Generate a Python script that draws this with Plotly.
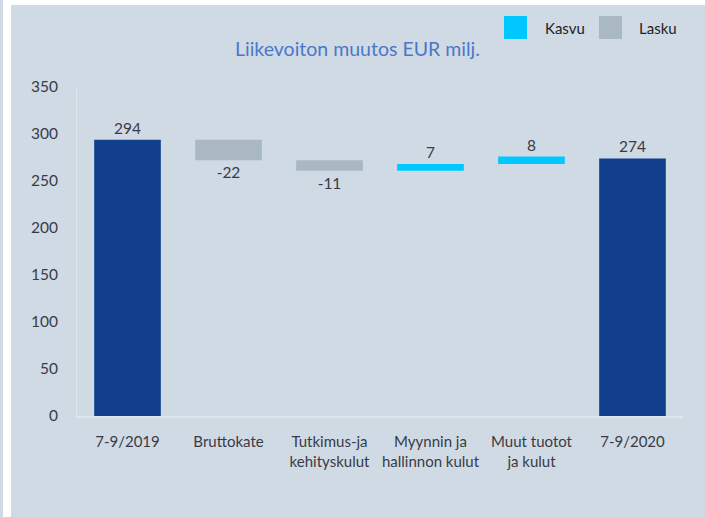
import plotly.graph_objects as go

categories = ["7-9/2019", "Bruttokate", "Tutkimus-ja<br>kehityskulut",
              "Myynnin ja<br>hallinnon kulut", "Muut tuotot<br>ja kulut", "7-9/2020"]
values = [294, -22, -11, 7, 8, 274]
kinds = ["total", "change", "change", "change", "change", "total"]
y_ticks = [0, 50, 100, 150, 200, 250, 300, 350]

C_TOTAL = "#113F8C"
C_UP = "#00C8FF"
C_DOWN = "#A9B8C2"
PANEL = "#CFDAE5"
TXT = "#3A3A45"
FONT = "Lato, sans-serif"

# compute bases from data
bases, heights, colors = [], [], []
running = 0
for v, k in zip(values, kinds):
    if k == "total":
        bases.append(0)
        heights.append(v)
        colors.append(C_TOTAL)
        running = v
    else:
        bases.append(running)
        heights.append(v)
        colors.append(C_UP if v > 0 else C_DOWN)
        running += v

xs = list(range(len(categories)))

fig = go.Figure()
fig.add_trace(go.Bar(
    x=xs, y=heights, base=bases,
    marker=dict(color=colors, line=dict(width=0)),
    width=0.66,
    text=[str(v) for v in values],
    textposition="outside",
    textfont=dict(family=FONT, size=15.5, color=TXT),
    cliponaxis=False,
    showlegend=False,
    hoverinfo="skip",
))

W, H = 705, 517
L, R, T, B = 77, 22, 87, 101
pw, ph = W - L - R, H - T - B

def xp(px):
    return (px - L) / pw

def yp(py):
    return (H - B - py) / ph

shapes = [
    # white top band and left strip
    dict(type="rect", xref="paper", yref="paper", x0=xp(11), x1=xp(W + 5), y0=yp(5), y1=yp(-5),
         fillcolor="white", line=dict(width=0), layer="below"),
    dict(type="rect", xref="paper", yref="paper", x0=xp(3), x1=xp(11), y0=yp(H + 5), y1=yp(-5),
         fillcolor="white", line=dict(width=0), layer="below"),
    # legend squares
    dict(type="rect", xref="paper", yref="paper", x0=xp(504), x1=xp(527), y0=yp(39), y1=yp(16),
         fillcolor=C_UP, line=dict(width=0)),
    dict(type="rect", xref="paper", yref="paper", x0=xp(599), x1=xp(622), y0=yp(39), y1=yp(16),
         fillcolor=C_DOWN, line=dict(width=0)),
]

annotations = [
    dict(text="Kasvu", xref="paper", yref="paper", x=xp(543), y=yp(28), xanchor="left", yanchor="middle",
         showarrow=False, font=dict(family=FONT, size=15, color="#222")),
    dict(text="Lasku", xref="paper", yref="paper", x=xp(637), y=yp(28), xanchor="left", yanchor="middle",
         showarrow=False, font=dict(family=FONT, size=15, color="#222")),
    dict(text="Liikevoiton muutos EUR milj.", xref="paper", yref="paper", x=xp(357), y=yp(49),
         xanchor="center", yanchor="middle", showarrow=False,
         font=dict(family=FONT, size=19.5, color="#4A78C8")),
]

fig.update_layout(
    width=W, height=H,
    margin=dict(l=L, r=R, t=T, b=B),
    paper_bgcolor=PANEL,
    plot_bgcolor=PANEL,
    barmode="overlay",
    shapes=shapes,
    annotations=annotations,
    font=dict(family=FONT, color=TXT),
    xaxis=dict(
        tickmode="array", tickvals=xs, ticktext=categories,
        range=[-0.5, len(categories) - 0.5],
        showgrid=False, zeroline=False,
        showline=True, linecolor="#E2E6EA", linewidth=2,
        ticks="outside", ticklen=11, tickcolor="rgba(0,0,0,0)",
        tickfont=dict(family=FONT, size=15, color=TXT),
    ),
    yaxis=dict(
        range=[0, 350], tickvals=y_ticks,
        showgrid=False, zeroline=False,
        showline=True, linecolor="#E2E6EA", linewidth=1,
        ticks="outside", ticklen=15, tickcolor="rgba(0,0,0,0)",
        tickfont=dict(family=FONT, size=15.5, color=TXT),
    ),
)

fig.write_html("out.html", config={"displayModeBar": False},
               post_script="document.body.style.margin='0';document.body.style.overflow='hidden';")
